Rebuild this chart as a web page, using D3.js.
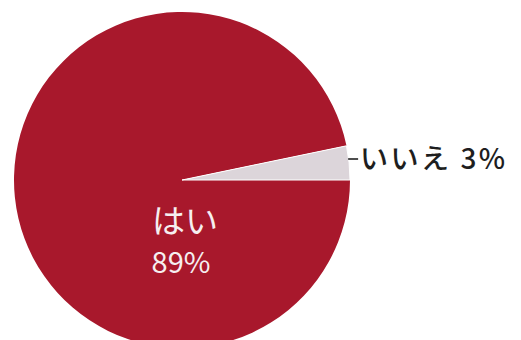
<!DOCTYPE html>
<html>
<head>
<meta charset="utf-8">
<script src="https://cdn.jsdelivr.net/npm/d3@7"></script>
<style>
  html, body { margin: 0; padding: 0; background: #fff; }
  svg { display: block; }
  text { font-family: "Noto Sans CJK JP", "Noto Sans", sans-serif; }
</style>
</head>
<body>
<div id="chart"></div>
<script>
// answers and their shares
var categories = ["はい", "いいえ"];
var values = [89, 3];
var pctLabels = ["89%", "3%"];
var colors = ["#a8182c", "#dcd5da"];

var width = 521, height = 340;
var cx = 182, cy = 180, radius = 168;

var svg = d3.select("#chart").append("svg")
    .attr("width", width)
    .attr("height", height);

var g = svg.append("g")
    .attr("transform", "translate(" + cx + "," + cy + ")");

// start at 3 o'clock so the small slice ends on the horizontal
var pie = d3.pie()
    .sort(null)
    .startAngle(Math.PI / 2)
    .endAngle(Math.PI / 2 + 2 * Math.PI)
    .value(function(d) { return d; });

var arc = d3.arc().innerRadius(0).outerRadius(radius);
var outerArc = d3.arc().innerRadius(radius).outerRadius(radius);

var arcs = pie(values);

g.selectAll("path.slice")
    .data(arcs)
    .enter().append("path")
    .attr("class", "slice")
    .attr("d", arc)
    .attr("fill", function(d, i) { return colors[i]; })
    .attr("stroke", function(d, i) { return i == 1 ? "#fff" : "none"; })
    .attr("stroke-width", 1);

// inside label for はい
var inside = g.append("text")
    .attr("text-anchor", "middle")
    .attr("fill", "#f6eef0");
inside.append("tspan")
    .attr("x", 3).attr("y", 53)
    .style("font-size", "33px")
    .text(categories[0]);
inside.append("tspan")
    .attr("x", -1).attr("y", 93)
    .style("font-size", "29px")
    .text(pctLabels[0]);

// outside label for いいえ with a short leader
var small = arcs[1];
var p = outerArc.centroid(small);
var labelY = -21;
g.append("line")
    .attr("x1", p[0] - 1).attr("y1", labelY)
    .attr("x2", p[0] + 9).attr("y2", labelY)
    .attr("stroke", "#222")
    .attr("stroke-width", 1.6);

g.append("text")
    .attr("x", p[0] + 11)
    .attr("y", labelY + 10)
    .attr("fill", "#1e1e1e")
    .style("font-size", "28px")
    .style("font-weight", 500)
    .style("letter-spacing", "2.5px")
    .text(categories[1] + " " + pctLabels[1]);
</script>
</body>
</html>
